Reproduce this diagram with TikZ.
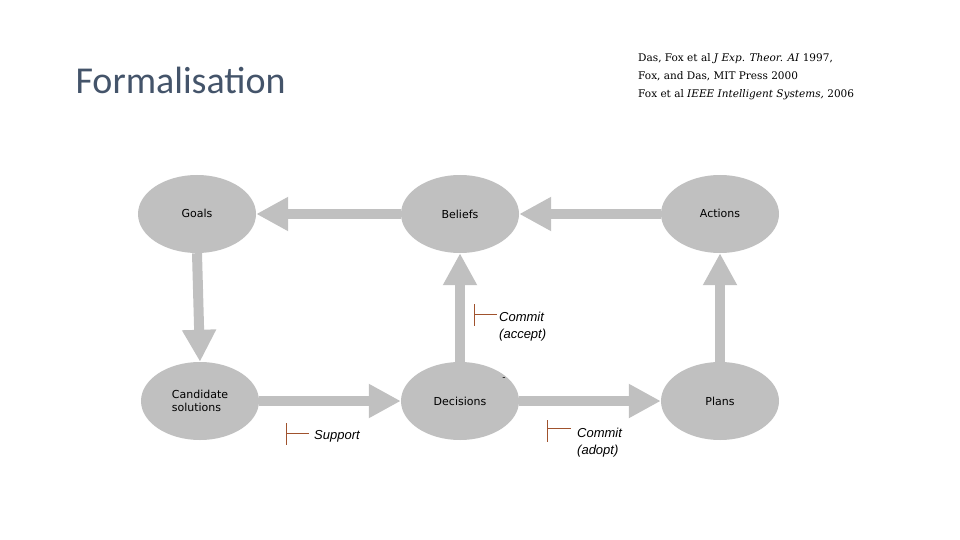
\documentclass[tikz,border=0pt]{standalone}
\usepackage{fontspec}
\setmainfont{DejaVu Sans}
\newfontfamily\titlefont{Carlito}
\newfontfamily\reffont{DejaVu Serif}
\newfontfamily\labfont{Liberation Sans}
\usetikzlibrary{arrows.meta,shapes.geometric}
\definecolor{blobgray}{HTML}{C0C0C0}
\definecolor{tickred}{HTML}{A0522D}
\definecolor{titleblue}{HTML}{44546A}
\tikzset{
  blob/.style={fill=blobgray, draw=none, shape=ellipse, minimum width=118pt, minimum height=78pt, font=\fontsize{11}{13}\selectfont, inner sep=0pt},
  flow/.style={draw=blobgray, line width=10pt, -{Triangle[length=32pt,width=32pt]}},
  note/.style={font=\labfont\itshape\fontsize{13}{17}\selectfont, align=left, anchor=north west, inner sep=0pt},
  tick/.style={draw=tickred, line width=0.6pt}
}
\begin{document}
\begin{tikzpicture}[x=1pt,y=-1pt]
  \useasboundingbox (0,0) rectangle (960,540);
  % title and references
  \node [anchor=west, text=titleblue, font=\titlefont\fontsize{38}{40}\selectfont] (title) at (72,80) {Formalisation};
  \node [anchor=north west, align=left, font=\reffont\fontsize{10.5}{18}\selectfont, inner sep=0pt] (refs) at (638,53)
    {Das, Fox et al \textit{J Exp. Theor. AI} 1997,\\Fox, and Das, MIT Press 2000\\Fox et al \textit{IEEE Intelligent Systems,} 2006};
  % nodes
  \node [style=blob] (goals) at (197,214) {\raisebox{2pt}{Goals}};
  \node [style=blob] (beliefs) at (460,214) {Beliefs};
  \node [style=blob] (actions) at (720,214) {\raisebox{2pt}{Actions}};
  \node [style=blob, align=left] (cand) at (200,401) {Candidate\\solutions};
  \node [style=blob] (dec) at (460,401) {Decisions};
  \node [style=blob] (plans) at (720,401) {Plans};
  % connectors
  \draw [style=flow] (beliefs.west) -- (goals.east);
  \draw [style=flow] (actions.west) -- (beliefs.east);
  \draw [style=flow] (goals.south) -- (cand.north);
  \draw [style=flow] (cand.east) -- (dec.west);
  \draw [style=flow] (dec.north) -- (beliefs.south);
  \draw [style=flow] (plans.north) -- (actions.south);
  \draw [style=flow] (dec.east) -- (plans.west);
  % labels
  \node [style=note] (accept) at (499,312) {Commit\\(accept)};
  \node [style=note] (support) at (314,430) {Support};
  \node [style=note] (adopt) at (577,428) {Commit\\(adopt)};
  \node [font=\fontsize{9}{9}\selectfont, inner sep=0pt] (dash) at (504,379) {-};
  \coordinate (t1) at (474,304); \coordinate (t2) at (474,326); \coordinate (t3) at (497,314);
  \draw [style=tick] (t1) -- (t2) (t1|-t3) -- (t3);
  \coordinate (s1) at (286,423); \coordinate (s2) at (286,445); \coordinate (s3) at (309,433);
  \draw [style=tick] (s1) -- (s2) (s1|-s3) -- (s3);
  \coordinate (a1) at (547,420); \coordinate (a2) at (547,442); \coordinate (a3) at (571,428);
  \draw [style=tick] (a1) -- (a2) (a1|-a3) -- (a3);
\end{tikzpicture}
\end{document}
